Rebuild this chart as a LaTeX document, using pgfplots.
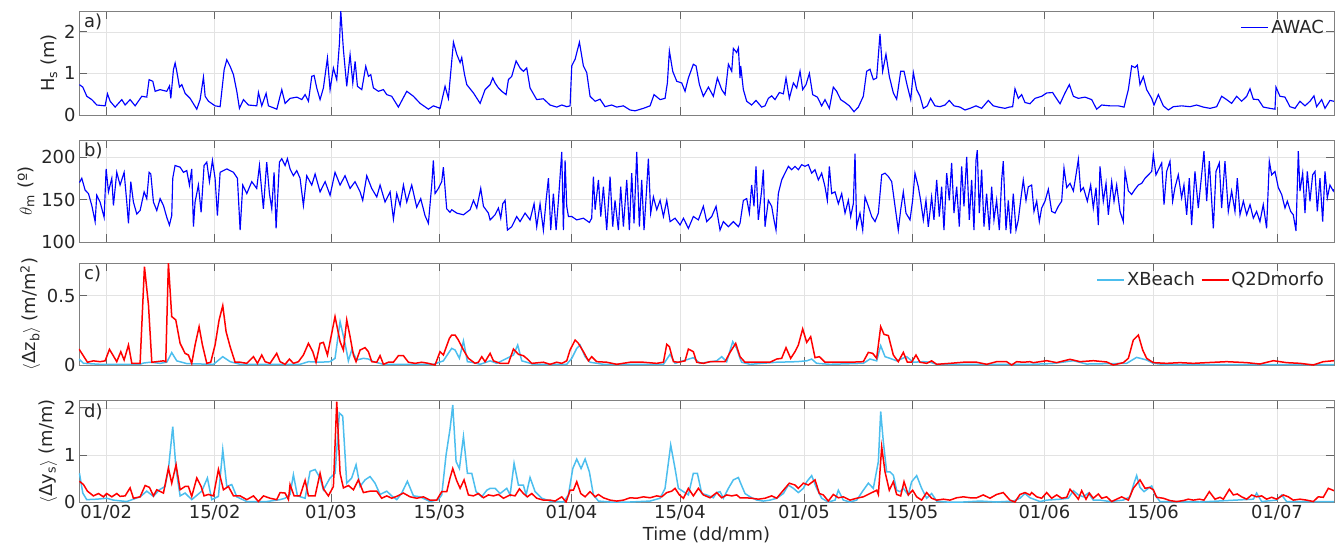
\documentclass[border=0pt]{standalone}
\usepackage{fontspec}
\setmainfont{DejaVu Sans}
\usepackage{pgfplots}
\pgfplotsset{compat=1.18}
\definecolor{xb}{rgb}{0.30,0.745,0.933}
\definecolor{awac}{rgb}{0,0,1}
\definecolor{txt}{rgb}{0.15,0.15,0.15}
\tikzset{plab/.style={anchor=north west, font=\fontsize{18}{21}\selectfont, text=txt, inner sep=0pt, xshift=5bp, yshift=-3bp}}
\pgfplotsset{
  panel/.style={
    scale only axis, width=1255bp, anchor=north west,
    xmin=27.5, xmax=189.35,
    xtick={31,45,60,74,91,105,121,135,152,166,182},
    xticklabels={},
    grid=major,
    major grid style={line width=0.5bp, color=black!11},
    axis line style={line width=0.7bp, color=black!50},
    major tick length=8bp,
    tick style={line width=0.7bp, color=black!60},
    tick label style={font=\fontsize{18}{21}\selectfont, color=txt},
    label style={font=\fontsize{18}{21}\selectfont, color=txt},
    /pgf/number format/assume math mode=true,
    yticklabel style={/pgf/number format/fixed},
    legend style={draw=none, fill=none, font=\fontsize{18}{21}\selectfont, text=txt,
      at={(1,1)}, anchor=north east, inner sep=1bp, xshift=-7bp, yshift=-6bp},
    legend cell align=left,
    legend image code/.code={\draw[#1] (0cm,0cm) -- (0.95cm,0cm);},
  },
}
\begin{document}
\begin{tikzpicture}
\path[use as bounding box] (-79bp,11bp) rectangle (1256bp,-538bp);
% ---------------- a) ----------------
\begin{axis}[panel, at={(0,0)}, height=104bp, ymin=0, ymax=2.5, ytick={0,1,2},
  ylabel={H\textsubscript{s} (m)},
  legend image code/.code={\draw[draw=awac, line width=1.8bp] (0cm,0cm) -- (0.95cm,0cm);}]
\addplot[color=awac, line width=1.15bp] table {
27.56 0.73
27.99 0.67
28.51 0.45
29.15 0.37
29.80 0.24
30.87 0.22
31.17 0.51
31.52 0.33
32.16 0.19
33.02 0.37
33.45 0.24
34.09 0.37
34.74 0.22
35.60 0.45
36.24 0.43
36.54 0.85
37.02 0.81
37.32 0.57
37.96 0.61
38.82 0.57
39.17 0.70
39.34 0.40
39.68 1.09
39.90 1.25
40.11 1.05
40.46 0.67
40.76 0.73
41.19 0.52
41.83 0.40
42.69 0.14
43.12 0.37
43.55 0.91
43.77 0.45
44.20 0.33
45.05 0.22
45.70 0.20
46.22 1.09
46.56 1.33
46.99 1.17
47.42 0.97
47.85 0.57
48.19 0.16
48.71 0.37
49.35 0.24
50.43 0.22
50.64 0.54
51.07 0.22
51.63 0.52
51.93 0.22
53.01 0.14
53.65 0.61
54.08 0.28
54.73 0.40
55.59 0.43
56.23 0.37
56.66 0.49
57.09 0.33
57.52 0.93
57.82 0.95
58.16 0.65
58.59 0.37
59.02 0.65
59.54 1.37
59.88 0.61
60.31 1.13
60.74 0.85
61.09 1.73
61.26 2.50
61.60 1.57
62.03 0.69
62.46 1.45
62.81 0.77
63.11 1.29
63.41 0.69
63.97 0.61
64.48 1.17
64.83 0.93
65.13 0.97
65.47 0.65
66.11 0.57
66.76 0.61
67.19 0.49
67.83 0.45
68.69 0.19
69.77 0.57
70.63 0.45
71.49 0.28
72.56 0.14
73.21 0.22
74.07 0.16
74.71 0.69
75.14 0.40
75.79 1.75
76.22 1.46
76.65 1.26
76.86 1.38
77.21 0.98
77.51 0.73
78.37 0.53
79.23 0.28
79.87 0.61
80.52 0.73
80.86 0.89
81.16 0.77
81.59 0.65
82.02 0.57
82.58 0.49
82.88 0.85
83.31 0.93
83.87 1.30
84.38 1.13
84.81 1.05
85.24 1.13
85.67 0.65
86.53 0.37
87.39 0.39
88.25 0.24
89.11 0.19
89.76 0.24
90.40 0.20
90.83 0.22
91.05 1.18
91.48 1.34
92.04 1.75
92.55 1.18
92.98 1.02
93.41 0.45
94.06 0.33
94.70 0.38
95.34 0.20
96.20 0.24
96.85 0.19
97.71 0.22
98.57 0.12
99.21 0.10
100.29 0.16
101.15 0.22
101.66 0.49
102.44 0.37
103.08 0.40
103.38 0.77
103.64 1.54
104.07 1.05
104.59 0.81
105.23 0.77
105.66 0.57
106.09 0.89
106.73 1.22
107.08 1.18
107.51 0.73
108.02 0.45
108.67 0.67
109.31 0.45
109.83 0.89
110.39 0.61
110.82 0.49
111.25 1.22
111.68 1.05
111.89 1.60
112.32 1.50
112.54 1.61
112.75 0.89
112.84 1.18
113.18 0.61
113.61 0.33
114.25 0.24
114.81 0.35
115.54 0.19
115.97 0.22
116.40 0.40
116.83 0.46
117.26 0.37
117.82 0.54
118.34 0.51
118.68 0.89
119.11 0.40
119.63 0.77
120.06 0.65
120.49 1.05
120.83 0.61
121.26 0.73
121.69 1.00
122.12 0.49
122.72 0.43
123.28 0.22
123.71 0.37
124.27 0.16
124.78 0.67
125.21 0.57
125.73 0.37
126.29 0.30
126.85 0.22
127.45 0.08
128.01 0.19
128.65 0.45
129.08 1.05
129.51 1.10
129.94 0.85
130.37 0.89
130.80 1.95
131.14 1.05
131.57 1.46
132.00 0.93
132.52 0.53
132.95 0.38
133.47 1.05
133.90 1.05
134.33 0.69
134.76 0.37
135.10 1.02
135.53 0.61
135.96 0.45
136.39 0.16
136.90 0.22
137.33 0.40
137.89 0.22
138.54 0.20
139.18 0.24
139.74 0.35
140.34 0.22
141.12 0.19
141.76 0.12
142.41 0.16
143.18 0.22
143.91 0.16
144.77 0.35
145.41 0.22
146.06 0.19
146.92 0.16
147.48 0.19
147.91 0.20
148.21 0.63
148.64 0.40
149.07 0.49
149.50 0.30
150.14 0.27
150.79 0.40
151.65 0.45
152.30 0.53
153.07 0.54
153.37 0.45
154.02 0.27
154.66 0.53
155.22 0.73
155.74 0.45
156.38 0.40
157.24 0.43
158.10 0.37
158.74 0.14
159.39 0.24
160.46 0.22
161.54 0.22
162.27 0.19
162.83 0.61
163.26 1.18
163.69 1.14
163.99 1.20
164.33 0.73
164.76 0.92
165.19 0.61
165.84 0.40
166.14 0.24
166.70 0.49
167.34 0.22
167.99 0.12
168.63 0.20
169.70 0.22
170.78 0.20
171.64 0.24
172.50 0.19
173.36 0.16
174.22 0.20
174.86 0.45
175.51 0.37
176.15 0.28
176.80 0.45
177.44 0.33
178.09 0.45
178.52 0.63
178.94 0.38
179.59 0.37
180.23 0.19
181.09 0.16
181.74 0.14
181.87 0.67
182.38 0.45
183.03 0.43
183.67 0.20
184.32 0.16
184.96 0.33
185.61 0.22
186.25 0.33
186.77 0.46
187.11 0.20
187.76 0.37
188.19 0.16
188.83 0.35
189.35 0.33
};
\addlegendentry{AWAC}
\node[plab] at (rel axis cs:0,1) {a)};
\end{axis}
% ---------------- b) ----------------
\begin{axis}[panel, at={(0,-129bp)}, height=102bp, ymin=100, ymax=220, ytick={100,150,200},
  ylabel={$\theta$\textsubscript{m} (º)}]
\addplot[color=awac, line width=1.15bp] table {
27.56 170
27.86 175
28.29 161
28.72 157
29.15 143
29.58 124
29.79 155
30.22 147
30.74 129
31.00 186
31.30 159
31.73 175
31.94 143
32.37 182
32.80 167
33.32 182
33.66 147
33.88 122
34.18 171
34.52 147
34.95 133
35.38 137
35.90 159
36.24 151
36.54 182
36.76 180
37.10 147
37.53 137
37.96 151
38.39 143
38.82 129
39.16 120
39.46 131
39.59 175
39.89 190
40.54 188
40.97 182
41.40 184
41.74 167
42.04 186
42.26 118
42.47 147
42.90 167
43.25 135
43.63 190
43.98 194
44.32 171
44.71 196
45.05 175
45.35 131
45.70 182
46.56 186
47.42 182
47.93 175
48.28 114
48.62 167
49.14 157
49.78 171
50.42 163
50.77 190
51.28 139
51.71 194
52.06 157
52.36 139
52.66 182
52.92 116
53.35 194
53.65 198
54.08 190
54.38 198
54.72 186
55.15 178
55.58 184
56.01 175
56.44 143
56.87 178
57.52 167
57.95 180
58.59 159
59.24 171
59.88 155
60.52 182
61.17 167
61.81 178
62.46 163
63.10 171
63.75 159
64.09 149
64.61 178
65.25 163
65.90 153
66.33 167
66.97 147
67.62 159
68.05 127
68.48 157
68.91 143
69.34 167
69.77 147
70.41 167
71.05 141
71.57 151
72.13 131
72.56 122
72.99 167
73.20 196
73.42 157
73.85 163
74.28 171
74.49 188
74.92 139
75.35 135
75.57 138
76.22 134
77.08 132
77.94 138
78.37 149
78.80 140
79.31 163
79.66 142
80.30 134
80.52 126
81.16 132
81.59 140
81.89 128
82.15 145
82.45 149
82.75 114
83.31 118
83.95 130
84.38 124
85.03 134
85.67 126
86.19 145
86.53 118
86.96 145
87.39 114
87.74 149
88.04 175
88.34 114
88.68 157
89.03 114
89.33 149
89.76 206
89.97 114
90.19 196
90.40 142
90.62 130
91.05 130
91.69 126
92.55 128
93.32 123
93.62 128
93.84 177
94.06 138
94.49 173
94.79 130
95.13 165
95.56 114
95.99 177
96.33 118
96.63 149
97.06 114
97.36 165
97.71 118
98.14 173
98.48 114
98.78 181
99.08 122
99.43 206
99.77 118
100.07 173
100.37 114
100.72 165
100.93 198
101.23 134
101.58 153
102.01 138
102.44 149
102.87 130
103.30 149
103.73 124
104.37 128
105.02 120
105.45 128
106.09 116
106.73 130
107.38 126
108.02 142
108.45 124
109.10 130
109.66 142
110.17 114
110.60 124
111.25 118
111.89 124
112.54 118
112.75 122
113.18 149
113.61 151
113.95 134
114.25 167
114.55 142
114.81 189
115.11 126
115.54 161
115.76 185
115.97 118
116.40 149
116.83 142
117.13 126
117.39 114
117.69 157
118.12 173
118.55 181
118.98 189
119.41 185
119.84 189
120.27 185
120.70 191
121.13 189
121.56 191
121.99 181
122.42 185
122.85 173
123.28 181
123.71 165
124.01 149
124.27 189
124.57 157
125.00 159
125.43 145
125.86 157
126.29 134
126.72 149
127.02 130
127.36 145
127.58 204
127.79 118
128.22 134
128.57 114
128.87 153
129.30 142
129.73 130
130.16 124
130.59 134
131.02 179
131.45 181
131.88 177
132.31 171
132.74 142
133.16 114
133.47 138
133.81 159
134.15 134
134.67 126
135.01 149
135.31 181
135.74 165
136.04 149
136.39 126
136.73 149
137.03 118
137.46 153
137.76 126
138.11 173
138.45 130
138.75 165
139.05 114
139.40 181
139.74 149
140.04 193
140.34 134
140.69 165
141.03 118
141.33 189
141.63 142
141.98 200
142.32 126
142.62 173
142.92 114
143.18 196
143.35 208
143.61 134
143.91 185
144.21 118
144.55 157
144.90 114
145.20 165
145.50 126
145.84 149
146.19 114
146.49 173
146.70 195
147.05 114
147.35 149
147.65 110
147.99 157
148.34 114
148.64 126
148.94 149
149.28 173
149.63 149
149.93 165
150.36 167
150.66 136
151.01 148
151.35 124
151.65 140
152.08 148
152.51 162
152.94 136
153.37 134
153.80 142
154.23 148
154.53 187
154.88 164
155.31 169
155.74 160
156.08 179
156.38 197
156.68 160
157.03 164
157.54 148
157.97 167
158.31 140
158.66 164
158.96 120
159.17 189
159.60 148
159.95 169
160.25 132
160.68 171
160.98 148
161.32 167
161.75 136
162.18 124
162.40 183
162.83 160
163.26 156
163.69 162
164.12 167
164.55 169
164.98 175
165.41 179
165.84 183
166.05 203
166.39 179
166.82 187
167.13 193
167.43 144
167.77 183
168.20 195
168.54 148
168.84 164
169.27 179
169.70 152
170.00 167
170.35 132
170.69 175
170.99 120
171.42 183
171.85 140
172.28 179
172.58 207
172.93 148
173.27 195
173.79 116
174.13 183
174.56 193
174.86 140
175.29 195
175.72 136
176.15 160
176.58 136
176.88 175
177.23 132
177.66 148
178.09 132
178.52 144
178.95 128
179.37 136
179.80 124
180.23 144
180.66 116
181.01 195
181.31 179
181.74 183
182.17 164
182.60 156
183.03 140
183.33 148
183.76 136
184.10 132
184.45 113
184.75 207
184.96 160
185.31 181
185.61 134
185.91 183
186.25 148
186.60 179
186.90 183
187.20 136
187.54 175
187.89 124
188.19 183
188.49 152
188.83 167
189.26 160
189.35 162
};
\node[plab] at (rel axis cs:0,1) {b)};
\end{axis}
% ---------------- c) ----------------
\begin{axis}[panel, at={(0,-252bp)}, height=102bp, ymin=0, ymax=0.735, ytick={0,0.5},
  ylabel={$\langle$Δz\textsubscript{b}$\rangle$ (m/m\textsuperscript{2})},
  legend columns=-1, legend style={/tikz/every even column/.append style={column sep=4bp}}]
\addplot[xb, line width=1.5bp] table {
27.50 0.043
28.08 0.012
30.22 0.005
35.38 0.005
35.81 0.014
36.67 0.020
37.96 0.012
38.82 0.020
39.46 0.089
40.11 0.030
41.40 0.010
44.84 0.005
46.04 0.060
46.99 0.024
48.28 0.005
56.01 0.005
57.09 0.024
58.59 0.020
59.88 0.024
60.52 0.048
61.17 0.312
61.81 0.156
62.24 0.030
62.67 0.108
63.32 0.036
64.18 0.048
64.82 0.043
65.47 0.024
66.76 0.005
73.20 0.005
74.49 0.030
75.27 0.096
75.57 0.120
76.00 0.108
76.56 0.048
77.08 0.173
77.59 0.024
78.15 0.020
79.23 0.005
80.52 0.030
81.38 0.012
83.53 0.072
84.08 0.144
84.60 0.030
85.24 0.020
86.10 0.005
90.40 0.005
91.05 0.048
91.69 0.120
92.12 0.144
92.77 0.060
93.41 0.020
95.13 0.005
102.87 0.005
103.73 0.077
104.37 0.012
106.73 0.053
107.59 0.012
109.74 0.030
110.39 0.060
111.03 0.024
111.81 0.168
112.32 0.120
112.75 0.048
112.96 0.020
114.04 0.005
117.48 0.020
120.06 0.024
121.35 0.030
121.99 0.043
122.63 0.012
124.35 0.005
128.65 0.012
129.51 0.043
130.37 0.030
130.89 0.139
131.45 0.060
132.09 0.048
132.95 0.030
134.24 0.060
135.10 0.020
136.39 0.024
137.25 0.020
138.11 0.005
150.14 0.005
153.00 0.010
155.74 0.031
157.45 0.007
162.61 0.012
163.90 0.055
165.19 0.036
166.05 0.012
167.77 0.002
189.35 0.002
};
\addlegendentry{XBeach}
\addplot[red, line width=1.5bp] table {
27.50 0.115
27.86 0.084
28.59 0.020
29.36 0.030
30.22 0.024
30.87 0.030
31.43 0.113
31.94 0.065
32.37 0.024
32.89 0.096
33.32 0.036
33.88 0.144
34.31 0.012
35.38 0.012
35.94 0.709
36.46 0.433
36.89 0.020
37.53 0.024
38.39 0.030
38.69 0.024
39.03 0.735
39.46 0.349
39.98 0.325
40.54 0.156
41.18 0.084
41.61 0.072
42.04 0.012
42.47 0.144
42.99 0.276
43.42 0.144
43.98 0.012
44.49 0.020
45.05 0.144
45.57 0.325
46.04 0.428
46.47 0.240
46.99 0.132
47.63 0.020
48.28 0.020
49.14 0.012
50.00 0.060
50.51 0.012
51.07 0.072
51.50 0.024
52.14 0.012
53.00 0.084
53.43 0.024
54.08 0.005
54.64 0.043
55.15 0.012
55.80 0.024
56.44 0.072
57.09 0.156
57.65 0.096
58.07 0.020
58.59 0.156
59.02 0.163
59.54 0.072
60.52 0.349
61.17 0.168
61.60 0.108
62.03 0.325
62.46 0.204
62.89 0.072
63.23 0.024
63.75 0.108
64.39 0.125
64.82 0.096
65.25 0.024
65.90 0.020
66.33 0.067
66.76 0.005
67.40 0.020
68.05 0.020
68.69 0.067
69.34 0.067
69.98 0.020
70.84 0.012
71.70 0.020
72.56 0.012
73.42 0.000
74.06 0.096
74.49 0.072
75.27 0.192
75.57 0.216
76.00 0.216
76.43 0.180
77.08 0.108
77.72 0.048
78.58 0.012
79.01 0.020
79.44 0.060
79.87 0.024
80.52 0.084
80.95 0.030
81.81 0.012
82.88 0.012
83.53 0.115
84.17 0.077
84.81 0.067
85.33 0.043
85.89 0.012
87.39 0.020
88.25 0.005
89.11 0.020
89.76 0.012
90.40 0.030
90.83 0.108
91.48 0.180
91.91 0.156
92.55 0.096
93.20 0.030
93.62 0.060
94.27 0.024
95.56 0.020
96.85 0.005
98.57 0.020
100.29 0.020
102.01 0.012
102.87 0.020
103.30 0.149
103.64 0.132
104.16 0.024
104.80 0.020
105.66 0.030
106.09 0.115
106.73 0.096
107.16 0.020
108.02 0.012
108.88 0.024
109.74 0.024
110.82 0.024
111.46 0.091
112.19 0.156
112.75 0.060
113.39 0.020
114.90 0.020
116.62 0.020
117.48 0.043
118.12 0.048
118.68 0.125
119.28 0.048
119.84 0.096
120.27 0.144
120.83 0.260
121.35 0.163
121.86 0.204
122.42 0.053
122.98 0.060
123.71 0.020
125.21 0.020
126.93 0.020
128.65 0.024
129.30 0.091
129.86 0.084
130.37 0.048
130.89 0.276
131.32 0.221
131.88 0.212
132.52 0.072
133.16 0.024
133.81 0.091
134.33 0.020
134.88 0.020
135.44 0.072
135.96 0.020
136.82 0.012
137.46 0.030
138.11 0.005
139.83 0.012
141.55 0.020
143.27 0.020
144.56 0.005
145.84 0.024
147.13 0.024
147.78 0.000
148.42 0.024
149.28 0.020
150.14 0.024
150.58 0.017
152.30 0.031
153.59 0.017
155.31 0.041
156.60 0.024
158.31 0.031
160.03 0.022
160.89 0.000
162.18 0.017
162.83 0.048
163.47 0.180
164.12 0.216
164.68 0.108
165.19 0.048
166.05 0.017
167.77 0.012
169.49 0.017
171.21 0.012
172.93 0.017
175.51 0.024
178.09 0.017
179.80 0.007
181.52 0.031
183.24 0.017
184.96 0.012
186.68 0.000
187.97 0.024
189.35 0.031
};
\addlegendentry{Q2Dmorfo}
\node[plab] at (rel axis cs:0,1) {c)};
\end{axis}
% ---------------- d) ----------------
\begin{axis}[panel, at={(0,-389.7bp)}, height=101.3bp, ymin=0, ymax=2.15, ytick={0,1,2},
  ylabel={$\langle$Δy\textsubscript{s}$\rangle$ (m/m)},
  xticklabels={01/02,15/02,01/03,15/03,01/04,15/04,01/05,15/05,01/06,15/06,01/07},
  xlabel={Time (dd/mm)}]
\addplot[xb, line width=1.5bp] table {
27.56 0.61
27.99 0.19
28.50 0.05
29.79 0.06
31.08 0.08
31.94 0.04
33.66 0.01
35.38 0.11
36.24 0.23
37.10 0.12
37.87 0.26
38.60 0.33
39.03 0.69
39.59 1.60
40.02 0.69
40.54 0.13
41.18 0.19
42.04 0.05
43.33 0.23
44.06 0.51
44.62 0.05
45.48 0.12
46.04 1.11
46.56 0.33
47.20 0.37
47.85 0.11
49.14 0.01
51.71 0.01
53.43 0.05
54.08 0.08
54.72 0.16
55.15 0.58
55.67 0.13
56.66 0.08
57.30 0.65
57.95 0.69
58.59 0.51
59.02 0.26
59.88 0.51
60.53 0.61
61.08 1.89
61.51 1.82
62.03 0.40
62.67 0.51
63.23 0.79
63.75 0.33
64.39 0.47
65.04 0.54
65.68 0.40
66.33 0.16
67.19 0.23
67.83 0.13
68.48 0.05
69.12 0.19
69.85 0.44
70.63 0.13
71.49 0.11
72.77 0.01
73.85 0.05
74.28 0.15
74.84 1.00
75.36 1.56
75.70 2.06
76.13 0.86
76.56 0.71
77.08 1.39
77.59 0.61
78.15 0.61
78.71 0.22
79.44 0.11
80.09 0.25
80.52 0.29
81.16 0.29
81.81 0.18
82.67 0.29
83.10 0.15
83.61 0.82
84.17 0.36
84.81 0.36
85.16 0.15
85.67 0.52
86.32 0.22
87.18 0.08
88.25 0.02
89.97 0.00
90.62 0.15
91.18 0.71
91.69 0.91
92.25 0.71
92.77 0.91
93.32 0.64
93.84 0.15
94.49 0.02
95.99 0.00
98.57 0.00
101.15 0.02
102.44 0.08
103.08 0.29
103.81 1.21
104.37 0.71
104.80 0.29
105.45 0.22
106.09 0.15
106.73 0.61
107.25 0.61
107.81 0.18
108.45 0.15
109.31 0.09
109.74 0.20
110.17 0.22
110.60 0.08
111.25 0.29
111.89 0.47
112.54 0.52
112.75 0.43
113.39 0.18
114.04 0.11
114.90 0.04
115.76 0.02
116.62 0.04
117.48 0.08
118.34 0.18
118.98 0.36
119.63 0.29
120.27 0.20
120.92 0.29
121.35 0.43
121.99 0.56
122.63 0.29
123.28 0.08
124.14 0.00
125.00 0.04
125.43 0.25
126.07 0.04
126.93 0.00
127.79 0.04
128.65 0.25
129.30 0.40
129.94 0.29
130.59 0.86
130.89 1.92
131.23 1.28
131.66 0.64
132.09 0.64
132.52 0.57
132.95 0.25
133.38 0.22
133.81 0.29
134.45 0.15
134.88 0.43
135.53 0.56
136.17 0.29
136.82 0.08
137.46 0.18
138.11 0.02
139.40 0.00
141.55 0.00
143.70 0.02
145.84 0.00
147.99 0.02
148.85 0.08
149.50 0.18
150.14 0.09
151.44 0.01
152.30 0.04
154.02 0.06
155.09 0.08
155.74 0.24
156.38 0.15
157.03 0.11
157.67 0.19
158.31 0.04
159.17 0.04
160.46 0.01
162.18 0.04
163.04 0.11
163.56 0.40
163.90 0.56
164.33 0.31
164.85 0.22
165.41 0.29
165.84 0.34
166.27 0.15
166.91 0.01
172.07 0.00
178.95 0.06
179.37 0.19
180.02 0.01
181.95 0.04
182.60 0.15
183.24 0.01
189.35 0.01
};
\addplot[red, line width=1.5bp] table {
27.56 0.44
28.08 0.37
28.59 0.23
29.36 0.13
30.01 0.18
30.65 0.11
31.08 0.18
31.73 0.11
32.37 0.18
32.80 0.12
33.45 0.13
34.09 0.30
34.52 0.08
35.38 0.11
36.03 0.35
36.59 0.31
37.10 0.13
37.53 0.26
38.39 0.19
39.03 0.72
39.46 0.40
40.02 0.79
40.54 0.26
41.18 0.33
41.61 0.33
42.04 0.12
42.69 0.51
43.25 0.33
43.63 0.13
44.19 0.16
44.84 0.13
45.48 0.69
46.13 0.26
46.77 0.33
47.42 0.13
48.28 0.13
49.14 0.05
50.00 0.13
50.64 0.01
51.29 0.13
52.14 0.08
53.00 0.05
53.43 0.20
54.08 0.19
54.51 0.05
54.72 0.37
55.24 0.13
56.01 0.13
56.66 0.46
57.09 0.13
57.95 0.13
58.59 0.61
59.02 0.28
59.66 0.13
60.31 0.33
60.74 2.13
61.17 0.61
61.60 0.30
62.25 0.35
62.89 0.26
63.53 0.47
64.18 0.20
65.04 0.23
65.90 0.23
66.54 0.08
67.19 0.13
67.83 0.08
68.48 0.12
69.34 0.19
70.20 0.11
71.06 0.08
71.92 0.11
72.77 0.04
73.63 0.04
74.28 0.22
74.93 0.22
75.35 0.51
75.70 0.71
76.22 0.45
76.65 0.29
77.16 0.47
77.72 0.15
78.37 0.13
79.01 0.18
79.66 0.09
80.30 0.15
80.95 0.13
81.59 0.16
82.24 0.08
83.10 0.15
83.74 0.13
84.30 0.28
84.81 0.18
85.33 0.11
85.89 0.18
86.53 0.08
87.39 0.04
88.25 0.04
88.90 0.02
89.76 0.11
90.32 0.00
90.83 0.25
91.26 0.25
91.69 0.43
92.21 0.18
92.77 0.11
93.41 0.22
94.06 0.11
94.49 0.16
95.13 0.09
95.99 0.04
96.85 0.02
97.71 0.04
98.57 0.09
99.43 0.08
100.29 0.11
101.15 0.09
102.01 0.13
102.65 0.11
103.30 0.20
103.94 0.23
104.37 0.29
104.93 0.15
105.45 0.08
106.09 0.29
106.73 0.13
107.38 0.29
108.02 0.15
108.88 0.09
109.74 0.20
110.39 0.09
111.03 0.15
111.68 0.13
112.32 0.15
112.75 0.09
113.39 0.09
114.25 0.08
115.11 0.06
115.97 0.08
116.83 0.13
117.48 0.08
118.34 0.25
119.11 0.40
119.84 0.36
120.27 0.29
120.92 0.40
121.56 0.36
122.42 0.47
122.98 0.18
123.49 0.15
124.14 0.02
124.78 0.16
125.43 0.09
126.07 0.11
126.93 0.04
127.79 0.08
128.65 0.11
129.51 0.18
130.37 0.25
130.59 0.16
131.02 1.17
131.45 0.64
132.00 0.25
132.52 0.43
132.95 0.16
133.47 0.13
133.90 0.43
134.45 0.15
135.01 0.25
135.53 0.11
136.17 0.04
136.82 0.20
137.46 0.08
138.11 0.04
138.97 0.06
139.83 0.04
140.69 0.09
141.55 0.11
142.41 0.09
143.27 0.09
144.12 0.15
144.98 0.08
145.84 0.16
146.70 0.20
147.56 0.04
148.21 0.00
148.85 0.16
149.50 0.20
150.14 0.15
150.36 0.20
151.01 0.11
151.65 0.08
152.30 0.20
152.94 0.08
153.59 0.15
154.23 0.08
154.88 0.10
155.31 0.27
155.95 0.15
156.38 0.06
156.81 0.24
157.37 0.06
157.80 0.19
158.31 0.08
158.96 0.17
159.39 0.08
160.03 0.11
160.68 0.01
161.32 0.06
161.97 0.11
162.83 0.04
163.47 0.29
164.33 0.47
164.98 0.29
165.54 0.31
166.05 0.26
166.48 0.10
167.34 0.08
168.20 0.03
169.06 0.01
169.92 0.03
170.56 0.06
171.21 0.04
171.98 0.06
172.58 0.04
173.27 0.22
174.00 0.06
174.65 0.10
175.08 0.06
175.85 0.27
176.37 0.15
176.88 0.17
177.44 0.11
178.09 0.06
178.73 0.15
179.37 0.11
180.02 0.13
180.66 0.06
181.31 0.10
181.95 0.06
182.81 0.15
183.46 0.11
184.10 0.04
184.96 0.06
185.82 0.04
186.68 0.01
187.32 0.11
187.97 0.10
188.62 0.29
189.35 0.24
};
\node[plab] at (rel axis cs:0,1) {d)};
\end{axis}
\end{tikzpicture}
\end{document}
